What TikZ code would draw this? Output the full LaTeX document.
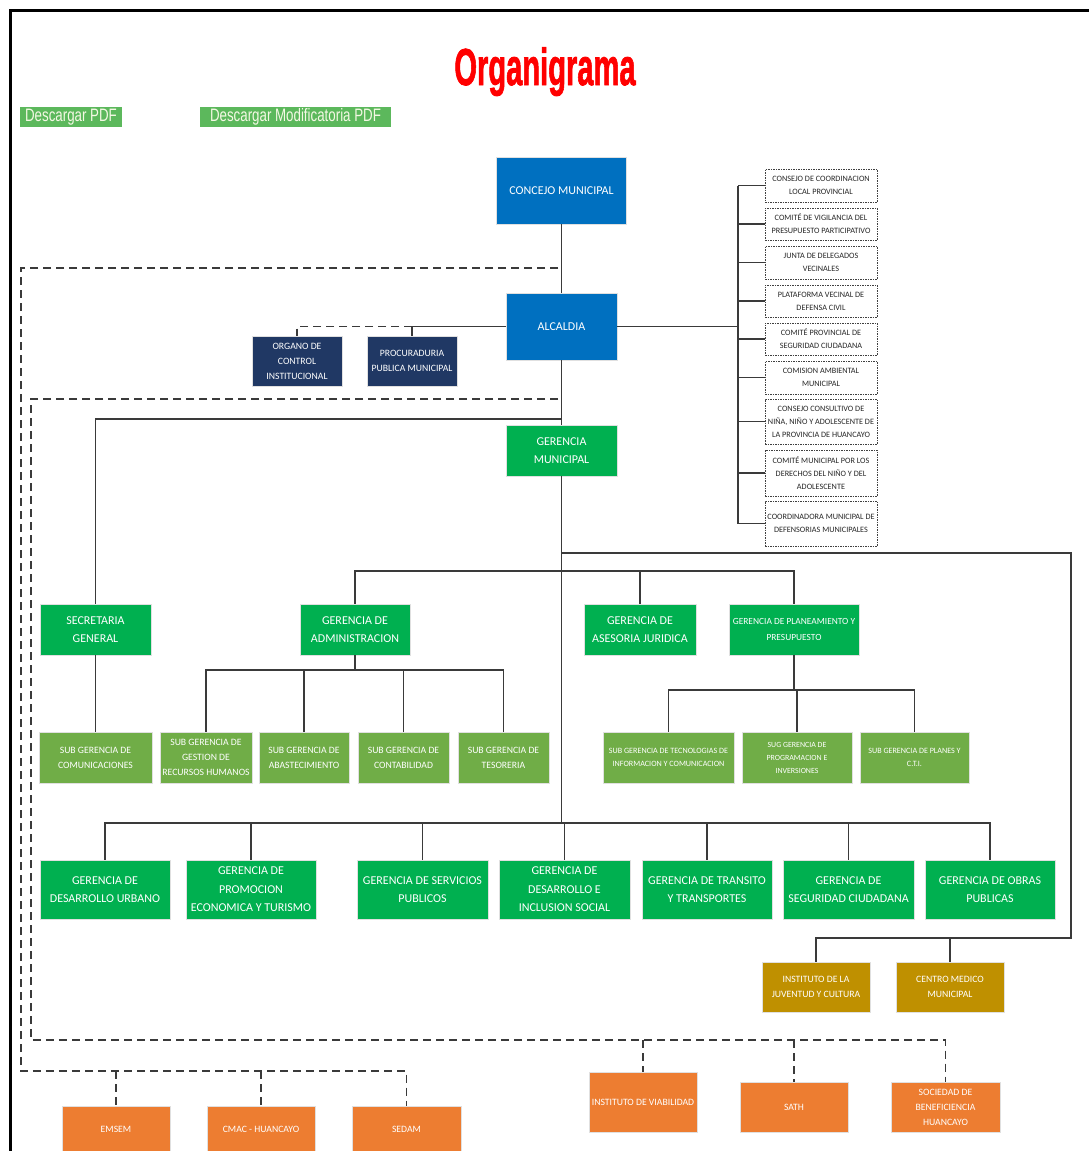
\documentclass[tikz,border=0pt]{standalone}
\usepackage{fontspec}
\usepackage{graphicx}
\setmainfont{Carlito}
\newfontfamily\libsans{Liberation Sans}
\newfontfamily\titlefont[FakeBold=1.8]{Liberation Sans Bold}
\definecolor{cblue}{HTML}{0070C0}
\definecolor{cnavy}{HTML}{203864}
\definecolor{cgreen}{HTML}{00B050}
\definecolor{clgreen}{HTML}{70AD47}
\definecolor{corange}{HTML}{ED7D31}
\definecolor{cgold}{HTML}{BF9000}
\definecolor{cline}{HTML}{3A3A3A}
\definecolor{cbtn}{HTML}{5CB85C}
\definecolor{cbtntext}{HTML}{F4F8E4}
\tikzset{
  base/.style={rectangle, inner sep=0pt, align=center, text=white, draw=black!12, line width=0.8pt},
  sz/.style 2 args={minimum width=#1pt, minimum height=#2pt},
  bigtxt/.style={font=\fontsize{12}{18.5}\selectfont},
  smtxt/.style={font=\fontsize{9.7}{15}\selectfont},
  bluebox/.style={base, fill=cblue, bigtxt},
  navybox/.style={base, fill=cnavy, smtxt},
  gbox/.style={base, fill=cgreen, bigtxt},
  lgbox/.style={base, fill=clgreen, smtxt},
  obox/.style={base, fill=corange, smtxt},
  goldbox/.style={base, fill=cgold, smtxt},
  dbox/.style={rectangle, inner sep=0pt, align=center, text=black!85, fill=white, draw=black!75, line width=0.7pt, dash pattern=on 1.5pt off 1pt, minimum width=112pt, font=\fontsize{8.2}{13}\selectfont},
  btn/.style={rectangle, inner sep=0pt, fill=cbtn, text=cbtntext, font=\libsans\fontsize{18}{18}\selectfont},
  conn/.style={draw=cline, line width=1.1pt},
  dconn/.style={draw=cline, line width=1.2pt, dash pattern=on 8pt off 5pt},
}
\begin{document}
\begin{tikzpicture}[x=1pt, y=-1pt]
\clip (0,0) rectangle (1089,1151);
\fill[white] (0,0) rectangle (1089,1151);
% frame
\draw[line width=3pt] (10,1200) -- (10,10) -- (1200,10);

% title and buttons
\node[anchor=base, text=red, inner sep=0pt] (title) at (545,85) {\scalebox{0.56}[1]{\titlefont\fontsize{52}{52}\selectfont Organigrama}};
\node[btn, sz={102}{20}] (pdf1) at (71,117) {\scalebox{0.74}[1]{Descargar PDF}};
\node[btn, sz={191}{20}] (pdf2) at (295.5,117) {\scalebox{0.74}[1]{Descargar Modificatoria PDF}};

% top
\node[bluebox, sz={130}{67}] (concejo) at (561.5,190.5) {CONCEJO MUNICIPAL};
\node[bluebox, sz={111}{67}] (alcaldia) at (561.5,326.5) {ALCALDIA};
\node[navybox, sz={90}{50}] (oci) at (297,361) {ORGANO DE\\CONTROL\\INSTITUCIONAL};
\node[navybox, sz={90}{50}] (ppm) at (412,361) {PROCURADURIA\\PUBLICA MUNICIPAL};
\node[gbox, sz={111}{51}] (gm) at (561.5,450.5) {GERENCIA\\MUNICIPAL};

% right committees
\node[dbox, minimum height=33pt] (r1) at (821,185.5) {CONSEJO DE COORDINACION\\LOCAL PROVINCIAL};
\node[dbox, minimum height=32pt] (r2) at (821,224) {COMITÉ DE VIGILANCIA DEL\\PRESUPUESTO PARTICIPATIVO};
\node[dbox, minimum height=33pt] (r3) at (821,262.5) {JUNTA DE DELEGADOS\\VECINALES};
\node[dbox, minimum height=32pt] (r4) at (821,301) {PLATAFORMA VECINAL DE\\DEFENSA CIVIL};
\node[dbox, minimum height=32pt] (r5) at (821,339) {COMITÉ PROVINCIAL DE\\SEGURIDAD CIUDADANA};
\node[dbox, minimum height=33pt] (r6) at (821,377.5) {COMISION AMBIENTAL\\MUNICIPAL};
\node[dbox, minimum height=45pt] (r7) at (821,421.5) {CONSEJO CONSULTIVO DE\\NIÑA, NIÑO Y ADOLESCENTE DE\\LA PROVINCIA DE HUANCAYO};
\node[dbox, minimum height=46pt] (r8) at (821,473) {COMITÉ MUNICIPAL POR LOS\\DERECHOS DEL NIÑO Y DEL\\ADOLESCENTE};
\node[dbox, minimum height=45pt] (r9) at (821,523.5) {COORDINADORA MUNICIPAL DE\\DEFENSORIAS MUNICIPALES};

% second level
\node[gbox, sz={111}{51}] (sg) at (95.5,629.5) {SECRETARIA\\GENERAL};
\node[gbox, sz={110}{51}] (ga) at (355,629.5) {GERENCIA DE\\ADMINISTRACION};
\node[gbox, sz={112}{51}] (gaj) at (640,629.5) {GERENCIA DE\\ASESORIA JURIDICA};
\node[gbox, sz={130}{51}, font=\fontsize{9.4}{16}\selectfont] (gpp) at (794,629.5) {GERENCIA DE PLANEAMIENTO Y\\PRESUPUESTO};

% sub gerencias
\node[lgbox, sz={113}{51}] (sgc) at (95.5,757.5) {SUB GERENCIA DE\\COMUNICACIONES};
\node[lgbox, sz={92}{51}] (sgrh) at (206,757.5) {SUB GERENCIA DE\\GESTION DE\\RECURSOS HUMANOS};
\node[lgbox, sz={90}{51}] (sgab) at (304,757.5) {SUB GERENCIA DE\\ABASTECIMIENTO};
\node[lgbox, sz={91}{51}] (sgco) at (403.5,757.5) {SUB GERENCIA DE\\CONTABILIDAD};
\node[lgbox, sz={91}{51}] (sgte) at (503.5,757.5) {SUB GERENCIA DE\\TESORERIA};
\node[lgbox, sz={131}{51}, font=\fontsize{8.1}{13}\selectfont] (sgti) at (668.5,757.5) {SUB GERENCIA DE TECNOLOGIAS DE\\INFORMACION Y COMUNICACION};
\node[lgbox, sz={110}{51}, font=\fontsize{7.9}{13}\selectfont] (sgpi) at (797,757.5) {SUG GERENCIA DE\\PROGRAMACION E\\INVERSIONES};
\node[lgbox, sz={109}{51}, font=\fontsize{8.1}{13}\selectfont] (sgpl) at (914.5,757.5) {SUB GERENCIA DE PLANES Y\\C.T.I.};

% bottom gerencias
\node[gbox, sz={130}{59}] (gdu) at (105,889.5) {GERENCIA DE\\DESARROLLO URBANO};
\node[gbox, sz={130}{59}] (gpe) at (251,889.5) {GERENCIA DE\\PROMOCION\\ECONOMICA Y TURISMO};
\node[gbox, sz={131}{59}] (gsp) at (422.5,889.5) {GERENCIA DE SERVICIOS\\PUBLICOS};
\node[gbox, sz={131}{59}] (gdi) at (564.5,889.5) {GERENCIA DE\\DESARROLLO E\\INCLUSION SOCIAL};
\node[gbox, sz={130}{59}] (gtt) at (707,889.5) {GERENCIA DE TRANSITO\\Y TRANSPORTES};
\node[gbox, sz={131}{59}] (gsc) at (848.5,889.5) {GERENCIA DE\\SEGURIDAD CIUDADANA};
\node[gbox, sz={130}{59}] (gop) at (990,889.5) {GERENCIA DE OBRAS\\PUBLICAS};

% gold
\node[goldbox, sz={108}{50}] (ijc) at (816,987) {INSTITUTO DE LA\\JUVENTUD Y CULTURA};
\node[goldbox, sz={108}{50}] (cmm) at (950,987) {CENTRO MEDICO\\MUNICIPAL};

% orange
\node[obox, sz={108}{46}] (emsem) at (116,1129) {EMSEM};
\node[obox, sz={108}{46}] (cmac) at (261,1129) {CMAC - HUANCAYO};
\node[obox, sz={109}{46}] (sedam) at (406.5,1129) {SEDAM};
\node[obox, sz={108}{60}] (iv) at (643,1102) {INSTITUTO DE VIABILIDAD};
\node[obox, sz={108}{50}] (sath) at (794,1107) {SATH};
\node[obox, sz={109}{50}] (sbh) at (945.5,1107) {SOCIEDAD DE\\BENEFICIENCIA\\HUANCAYO};

% helper coordinates
\coordinate (busR) at (738,0);
\coordinate (yS) at (0,419);
\coordinate (yR) at (0,553);
\coordinate (xR) at (1071,0);
\coordinate (yJ) at (0,938);
\coordinate (yB) at (0,571);
\coordinate (yA) at (0,670);
\coordinate (yP) at (0,690);
\coordinate (yBot) at (0,823);
\coordinate (o1) at (558,268);
\coordinate (o2) at (21,268);
\coordinate (o3) at (21,1071);
\coordinate (i1) at (558,399);
\coordinate (i2) at (31,399);
\coordinate (i3) at (31,1040);

% solid connectors
\draw[conn] (concejo.south) -- (alcaldia.north);
\draw[conn] (alcaldia.south) -- (gm.north);
\draw[conn] (alcaldia.west) -- (ppm.north |- alcaldia.west) -- (ppm.north);
\draw[conn] (alcaldia.east) -- (busR |- alcaldia.east);
\draw[conn] (busR |- r1.west) -- (busR |- r9.west);
\foreach \r in {r1,r2,r3,r4,r5,r6,r7,r8,r9}{\draw[conn] (busR |- \r.west) -- (\r.west);}
\draw[conn] (alcaldia.south |- yS) -| (sg.north);
\draw[conn] (sg.south) -- (sgc.north);
\draw[conn] (gm.south) -- (gm.south |- yBot);
\draw[conn] (gm.south |- yR) -| (xR |- yJ) -| (ijc.north);
\draw[conn] (cmm.north) -- (cmm.north |- yJ);
\draw[conn] (ga.north) |- (yB -| gpp.north) -- (gpp.north);
\draw[conn] (gaj.north) -- (gaj.north |- yB);
\draw[conn] (ga.south) -- (ga.south |- yA);
\draw[conn] (sgrh.north) |- (yA -| sgte.north) -- (sgte.north);
\draw[conn] (sgab.north) -- (sgab.north |- yA);
\draw[conn] (sgco.north) -- (sgco.north |- yA);
\draw[conn] (gpp.south) -- (gpp.south |- yP);
\draw[conn] (sgti.north) |- (yP -| sgpl.north) -- (sgpl.north);
\draw[conn] (sgpi.north) -- (sgpi.north |- yP);
\draw[conn] (gdu.north) |- (yBot -| gop.north) -- (gop.north);
\foreach \g in {gpe,gsp,gdi,gtt,gsc}{\draw[conn] (\g.north) -- (\g.north |- yBot);}

% dashed connectors
\draw[dconn] (ppm.north |- alcaldia.west) -| (oci.north);
\draw[dconn] (o1) -- (o2) -- (o3) -| (sedam.north);
\draw[dconn] (emsem.north |- o3) -- (emsem.north);
\draw[dconn] (cmac.north |- o3) -- (cmac.north);
\draw[dconn] (i1) -- (i2) -- (i3) -| (sbh.north);
\draw[dconn] (iv.north |- i3) -- (iv.north);
\draw[dconn] (sath.north |- i3) -- (sath.north);
\end{tikzpicture}
\end{document}
